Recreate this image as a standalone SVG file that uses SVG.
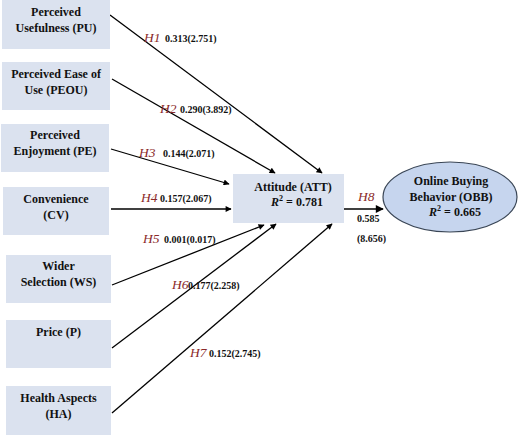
<svg xmlns="http://www.w3.org/2000/svg" width="520" height="436" viewBox="0 0 520 436">
<defs>
<style>
.box{fill:#dbe2ef;}
.nt{font-family:"Liberation Serif","Times New Roman",serif;font-weight:bold;font-size:12px;fill:#111;text-anchor:middle;}
.h{font-family:"Liberation Serif","Times New Roman",serif;font-style:italic;font-size:13.5px;fill:#8b2a2a;}
.v{font-family:"Liberation Serif","Times New Roman",serif;font-weight:bold;font-size:10px;fill:#111;}
.ln{stroke:#000;stroke-width:1.3;fill:none;marker-end:url(#ah);}
</style>
<marker id="ah" viewBox="0 0 10 10" refX="9" refY="5" markerWidth="7" markerHeight="6" markerUnits="userSpaceOnUse" orient="auto"><path d="M0,0 L10,5 L0,10 z" fill="#000"/></marker>
<marker id="ah2" viewBox="0 0 10 10" refX="9" refY="5" markerWidth="9" markerHeight="8" markerUnits="userSpaceOnUse" orient="auto"><path d="M0,0 L10,5 L0,10 z" fill="#000"/></marker>
</defs>
<rect width="520" height="436" fill="#fff"/>
<g id="connectors">
<path class="ln" d="M110,15 L322,173"/>
<path class="ln" d="M112,79 L275,173"/>
<path class="ln" d="M111,149 L229,184"/>
<path class="ln" d="M111,209 L231,209"/>
<path class="ln" d="M112,285 L264,225"/>
<path class="ln" d="M112,348 L276,224"/>
<path class="ln" d="M112,413 L332,224"/>
<path d="M342,209 L383,209" stroke="#000" stroke-width="1.6" marker-end="url(#ah2)"/>
<text class="h" x="144" y="42">H1</text><text class="v" x="165" y="42">0.313(2.751)</text>
<text class="h" x="160" y="113">H2</text><text class="v" x="180" y="113">0.290(3.892)</text>
<text class="h" x="139" y="157">H3</text><text class="v" x="163" y="157">0.144(2.071)</text>
<text class="h" x="141" y="202">H4</text><text class="v" x="160" y="202">0.157(2.067)</text>
<text class="h" x="143" y="243">H5</text><text class="v" x="164" y="243">0.001(0.017)</text>
<text class="h" x="172" y="289">H6</text><text class="v" x="188" y="289">0.177(2.258)</text>
<text class="h" x="190" y="357">H7</text><text class="v" x="209" y="357">0.152(2.745)</text>
<text class="h" x="358" y="201">H8</text>
<text class="v" x="357" y="222">0.585</text>
<text class="v" x="357" y="242">(8.656)</text>
</g>
<g id="PU"><rect class="box" x="2" y="0" width="108" height="49"/><text class="nt" x="56" y="16">Perceived</text><text class="nt" x="56" y="32">Usefulness (PU)</text></g>
<g id="PEOU"><rect class="box" x="2" y="62" width="108" height="48"/><text class="nt" x="56" y="78">Perceived Ease of</text><text class="nt" x="56" y="94">Use (PEOU)</text></g>
<g id="PE"><rect class="box" x="1" y="124" width="108" height="48"/><text class="nt" x="55" y="139">Perceived</text><text class="nt" x="55" y="155">Enjoyment (PE)</text></g>
<g id="CV"><rect class="box" x="3" y="187" width="106" height="48"/><text class="nt" x="56" y="203">Convenience</text><text class="nt" x="56" y="219">(CV)</text></g>
<g id="WS"><rect class="box" x="6" y="255" width="105" height="48"/><text class="nt" x="58.5" y="270">Wider</text><text class="nt" x="58.5" y="286">Selection (WS)</text></g>
<g id="P"><rect class="box" x="6" y="320" width="105" height="48"/><text class="nt" x="58.5" y="336">Price (P)</text></g>
<g id="HA"><rect class="box" x="6" y="386" width="105" height="49"/><text class="nt" x="58.5" y="402">Health Aspects</text><text class="nt" x="58.5" y="418">(HA)</text></g>
<g id="ATT"><rect class="box" x="233" y="174" width="111" height="49"/><text class="nt" x="293" y="191">Attitude (ATT)</text><text class="nt" x="297" y="206"><tspan font-style="italic">R</tspan><tspan font-size="8" dy="-5">2</tspan><tspan dy="5"> = 0.781</tspan></text></g>
<g id="OBB"><ellipse cx="450" cy="197" rx="67" ry="35" fill="#c6d5ee" stroke="#3a4656" stroke-width="1.2"/><text class="nt" x="451" y="185">Online Buying</text><text class="nt" x="451" y="201">Behavior (OBB)</text><text class="nt" x="455" y="216"><tspan font-style="italic">R</tspan><tspan font-size="8" dy="-5">2</tspan><tspan dy="5"> = 0.665</tspan></text></g>
</svg>
